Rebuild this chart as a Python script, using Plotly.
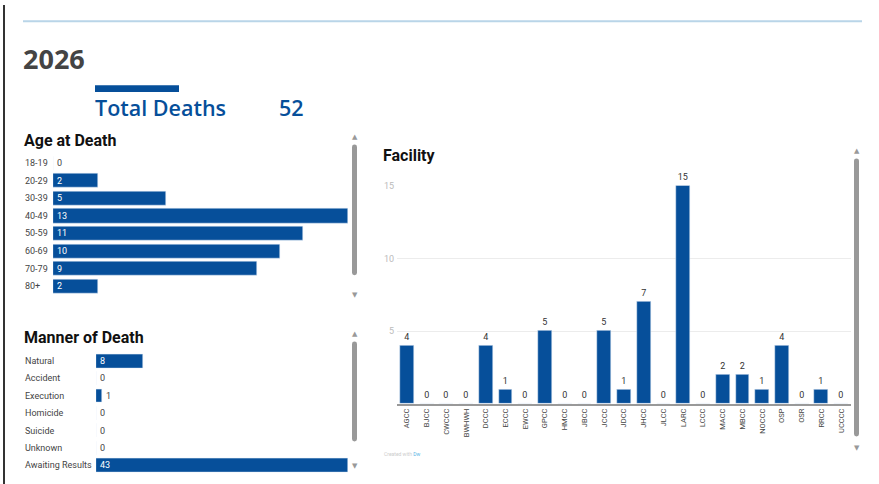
import plotly.graph_objects as go

# ---------------- data ----------------
age_groups = ["18-19", "20-29", "30-39", "40-49", "50-59", "60-69", "70-79", "80+"]
age_counts = [0, 2, 5, 13, 11, 10, 9, 2]

manners = ["Natural", "Accident", "Execution", "Homicide", "Suicide", "Unknown", "Awaiting Results"]
manner_counts = [8, 0, 1, 0, 0, 0, 43]

facilities = ["AGCC", "BJCC", "CWCCC", "BWHWH", "DCCC", "ECCC", "EWCC", "GPCC", "HMCC", "JBCC",
              "JCCC", "JDCC", "JHCC", "JLCC", "LARC", "LCCC", "MACC", "MBCC", "NOCCC", "OSP",
              "OSR", "RRCC", "UCCCC"]
facility_counts = [4, 0, 0, 0, 4, 1, 0, 5, 0, 0, 5, 1, 7, 0, 15, 0, 2, 2, 1, 4, 0, 1, 0]

year_label = "2026"
total_label = "Total Deaths"
total_value = 52

# ---------------- layout helpers ----------------
W, H = 879, 484
BLUE = "#064f9a"
def px(x):
    return x / W
def py(y):
    return 1 - y / H

FONT = "Roboto"
fig = go.Figure()

# Age at Death (horizontal bars)
age_idx = list(range(len(age_groups)))
fig.add_trace(go.Bar(x=age_counts, y=age_idx, orientation="h", marker_color=BLUE,
                     width=0.8, xaxis="x", yaxis="y", hoverinfo="skip",
                     customdata=age_groups))
# Manner of death
man_idx = list(range(len(manners)))
fig.add_trace(go.Bar(x=manner_counts, y=man_idx, orientation="h", marker_color=BLUE,
                     width=0.8, xaxis="x2", yaxis="y2", hoverinfo="skip",
                     customdata=manners))
# Facility
fac_idx = list(range(len(facilities)))
fig.add_trace(go.Bar(x=fac_idx, y=facility_counts, marker_color=BLUE, width=0.7,
                     xaxis="x3", yaxis="y3", text=[str(v) for v in facility_counts],
                     textposition="outside", cliponaxis=False,
                     textfont=dict(family=FONT, size=9, color="#333"), hoverinfo="skip"))

hidden = dict(showgrid=False, zeroline=False, showticklabels=False, showline=False, ticks="")

annotations = []
shapes = []

# Age rows
for i, (lab, v) in enumerate(zip(age_groups, age_counts)):
    annotations.append(dict(x=px(23), xref="paper", y=i, yref="y", text=lab, showarrow=False,
                            xanchor="left", yanchor="middle",
                            font=dict(family=FONT, size=9, color="#444")))
    annotations.append(dict(x=0, xref="x", y=i, yref="y", text=str(v), showarrow=False,
                            xanchor="left", yanchor="middle", xshift=2,
                            font=dict(family=FONT, size=9, color="white" if v > 0 else "#444")))
# Manner rows
for i, (lab, v) in enumerate(zip(manners, manner_counts)):
    annotations.append(dict(x=px(23), xref="paper", y=i, yref="y2", text=lab, showarrow=False,
                            xanchor="left", yanchor="middle",
                            font=dict(family=FONT, size=9, color="#444")))
    inside = v >= 3
    annotations.append(dict(x=0 if inside or v == 0 else v, xref="x2", y=i, yref="y2", text=str(v),
                            showarrow=False, xanchor="left", yanchor="middle", xshift=2,
                            font=dict(family=FONT, size=9, color="white" if inside else "#444")))

# Titles
annotations += [
    dict(x=px(21), y=py(54), xref="paper", yref="paper", text="<b>" + year_label + "</b>",
         showarrow=False, xanchor="left", yanchor="middle",
         font=dict(family="Open Sans", size=27, color="#444")),
    dict(x=px(93), y=py(104), xref="paper", yref="paper", text=total_label,
         showarrow=False, xanchor="left", yanchor="middle",
         font=dict(family="Open Sans", size=21.5, color=BLUE, weight=600)),
    dict(x=px(277), y=py(104), xref="paper", yref="paper", text=str(total_value),
         showarrow=False, xanchor="left", yanchor="middle",
         font=dict(family="Open Sans", size=21.5, color=BLUE, weight=600)),
    dict(x=px(22), y=py(137), xref="paper", yref="paper", text="<b>Age at Death</b>",
         showarrow=False, xanchor="left", yanchor="middle",
         font=dict(family=FONT, size=16, color="#111")),
    dict(x=px(22), y=py(336), xref="paper", yref="paper", text="<b>Manner of Death</b>",
         showarrow=False, xanchor="left", yanchor="middle",
         font=dict(family=FONT, size=16, color="#111")),
    dict(x=px(381), y=py(152), xref="paper", yref="paper", text="<b>Facility</b>",
         showarrow=False, xanchor="left", yanchor="middle",
         font=dict(family=FONT, size=16, color="#111")),
    dict(x=px(382), y=py(454), xref="paper", yref="paper",
         text="Created with <span style='color:#5ab4e5'>Dw</span>",
         showarrow=False, xanchor="left", yanchor="middle",
         font=dict(family=FONT, size=5, color="#ccc")),
]

# scroll arrows
for (cx, cy, sym) in [(354.5, 133, "▲"), (354.5, 293, "▼"), (354.5, 332, "▲"), (354.5, 466, "▼"),
                      (856.5, 148, "▲"), (856.5, 448, "▼")]:
    annotations.append(dict(x=px(cx), y=py(cy), xref="paper", yref="paper", text=sym,
                            showarrow=False, xanchor="center", yanchor="middle",
                            font=dict(family="DejaVu Sans", size=7, color="#999")))

def rounded_bar(x0, y0, x1, y1):
    r = (x1 - x0) / 2
    return ("M {a},{b} Q {c},{d} {e},{d} Q {f},{d} {f},{b} L {f},{g} Q {f},{h} {e},{h} "
            "Q {c},{h} {c},{g} Z").format(
        a=px(x0), b=py(y0 + r), c=px(x0), d=py(y0), e=px(x0 + r), f=px(x1),
        g=py(y1 - r), h=py(y1))

for (x0, y0, x1, y1) in [(352, 141, 357, 273), (352, 340, 357, 441), (854, 155, 859, 436)]:
    shapes.append(dict(type="path", xref="paper", yref="paper", path=rounded_bar(x0, y0, x1, y1),
                       fillcolor="#999", line=dict(width=0)))

# left border and top rule
shapes.append(dict(type="line", xref="paper", yref="paper", x0=px(4), x1=px(4), y0=0, y1=1,
                   line=dict(color="#333", width=2)))
shapes.append(dict(type="line", xref="paper", yref="paper", x0=px(23), x1=px(862), y0=py(16.5),
                   y1=py(16.5), line=dict(color="#b9d5e8", width=2)))
# blue accent bar above total
shapes.append(dict(type="rect", xref="paper", yref="paper", x0=px(95), x1=px(179), y0=py(88),
                   y1=py(81), fillcolor=BLUE, line=dict(width=0)))

fig.update_layout(
    width=W, height=H, margin=dict(l=0, r=0, t=0, b=0),
    paper_bgcolor="white", plot_bgcolor="white", showlegend=False, bargap=0,
    xaxis=dict(domain=[px(53), px(348)], range=[0, 13], fixedrange=True, **hidden),
    yaxis=dict(domain=[py(293), py(151)], range=[7.5, -0.5], fixedrange=True, **hidden),
    xaxis2=dict(domain=[px(96), px(348)], range=[0, 43], anchor="y2", fixedrange=True, **hidden),
    yaxis2=dict(domain=[py(474), py(351)], range=[6.5, -0.5], anchor="x2", fixedrange=True, **hidden),
    xaxis3=dict(domain=[px(397), px(851)], range=[-0.5, 22.5], anchor="y3",
                tickmode="array", tickvals=fac_idx, ticktext=facilities, tickangle=-90,
                tickfont=dict(family=FONT, size=7.5, color="#444"), showgrid=False,
                zeroline=False, showline=True, linecolor="#999", linewidth=1.5, ticks="",
                fixedrange=True),
    yaxis3=dict(domain=[py(403), py(182.5)], range=[0, 15], anchor="x3", tickmode="array",
                tickvals=[5, 10, 15], tickfont=dict(family=FONT, size=9, color="#bbb"),
                showgrid=True, gridcolor="#ececec", gridwidth=1, zeroline=False,
                showline=False, ticks="", ticklabelstandoff=2, fixedrange=True),
    annotations=annotations, shapes=shapes,
)

post = ("document.body.style.margin='0';document.body.style.overflow='hidden';"
        "var d=document.getElementById('{plot_id}');d.style.position='fixed';"
        "d.style.top='0px';d.style.left='0px';")
fig.write_html("out.html", config={"displayModeBar": False}, post_script=post)
